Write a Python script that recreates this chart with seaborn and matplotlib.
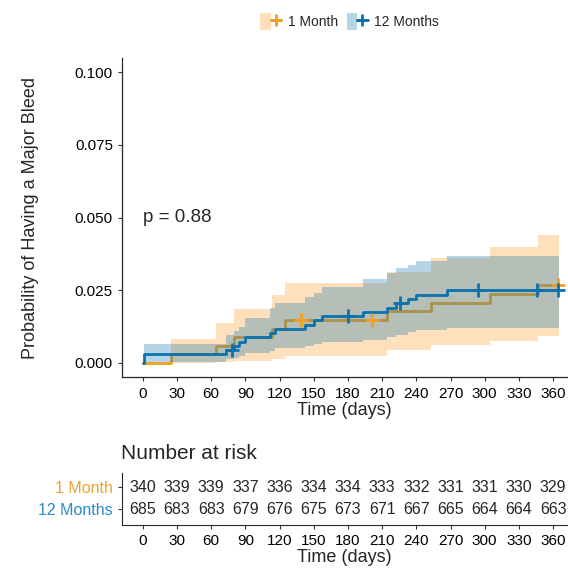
import numpy as np
import pandas as pd
import matplotlib
matplotlib.use("Agg")
import matplotlib.pyplot as plt
import seaborn as sns
from matplotlib.patches import Patch
from matplotlib.lines import Line2D
from matplotlib.legend_handler import HandlerTuple

# --- data ---
groups = ["1 Month", "12 Months"]

m1_time = [0, 25, 64, 80, 113, 125, 214, 253, 305, 347, 365]
m1_prob = [0, 0.0029, 0.0059, 0.0088, 0.0118, 0.0147, 0.0177, 0.0207, 0.0237, 0.0268, 0.0268]
m1_low = [0, 0, 0.0002, 0.0008, 0.0015, 0.0025, 0.0045, 0.006, 0.0075, 0.0092, 0.0092]
m1_up = [0, 0.0083, 0.0138, 0.0186, 0.0234, 0.0274, 0.0314, 0.036, 0.040, 0.044, 0.044]
m1_cens_t = [139, 201, 364]
m1_cens_p = [0.0147, 0.0147, 0.0268]

m12_time = [0, 1, 73, 80, 84, 90, 112, 116, 142, 150, 157, 193, 214, 222, 233, 240, 267, 365]
m12_prob = [0, 0.0029, 0.0044, 0.0058, 0.0073, 0.0088, 0.0102, 0.0117, 0.0132, 0.0146, 0.0161,
            0.0176, 0.0190, 0.0205, 0.0220, 0.0235, 0.0250, 0.0250]
m12_low = [0, 0.0004, 0.0012, 0.0018, 0.0025, 0.0033, 0.0042, 0.005, 0.0058, 0.0065, 0.0072,
           0.008, 0.009, 0.0097, 0.0105, 0.0113, 0.012, 0.012]
m12_up = [0, 0.0066, 0.0095, 0.011, 0.0125, 0.0155, 0.0188, 0.0205, 0.0225, 0.024, 0.0262,
          0.029, 0.031, 0.0325, 0.0335, 0.035, 0.0368, 0.0368]
m12_cens_t = [78, 180, 226, 294, 346, 364]
m12_cens_p = [0.0044, 0.0161, 0.0205, 0.025, 0.025, 0.025]

risk_times = [0, 30, 60, 90, 120, 150, 180, 210, 240, 270, 300, 330, 360]
m1_risk = [340, 339, 339, 337, 336, 334, 334, 333, 332, 331, 331, 330, 329]
m12_risk = [685, 683, 683, 679, 676, 675, 673, 671, 667, 665, 664, 664, 663]

p_text = "p = 0.88"

colors = {"1 Month": "#F0A020", "12 Months": "#0B72AE"}
fills = {"1 Month": ("#FF9F30", 0.32), "12 Months": ("#0B72AE", 0.3)}
label_colors = {"1 Month": "#F2A233", "12 Months": "#2B8BCB"}

sns.set_style("ticks")
plt.rcParams["font.family"] = ["Liberation Sans", "DejaVu Sans"]

curves = pd.concat([
    pd.DataFrame({"time": m1_time, "prob": m1_prob, "low": m1_low, "up": m1_up, "group": "1 Month"}),
    pd.DataFrame({"time": m12_time, "prob": m12_prob, "low": m12_low, "up": m12_up, "group": "12 Months"}),
])
cens = pd.concat([
    pd.DataFrame({"time": m1_cens_t, "prob": m1_cens_p, "group": "1 Month"}),
    pd.DataFrame({"time": m12_cens_t, "prob": m12_cens_p, "group": "12 Months"}),
])

fig = plt.figure(figsize=(5.68, 5.69), dpi=100)
ax = fig.add_axes([0.2148, 0.3366, 0.783, 0.5623])
ax_tab = fig.add_axes([0.2148, 0.0773, 0.783, 0.0914])

# ribbon then step line per group; blue ribbon sits over the orange line
for i, g in enumerate(groups):
    d = curves[curves["group"] == g]
    ax.fill_between(d["time"], d["low"], d["up"], step="post", color=fills[g][0],
                    alpha=fills[g][1], linewidth=0, zorder=1 + 2 * i)
    sns.lineplot(data=d, x="time", y="prob", ax=ax, color=colors[g], linewidth=2,
                 drawstyle="steps-post", estimator=None, sort=False, zorder=2 + 2 * i)
for g in groups:
    d = cens[cens["group"] == g]
    sns.scatterplot(data=d, x="time", y="prob", ax=ax, color=colors[g], marker="+",
                    s=90, linewidth=2, zorder=6)

ax.text(0, 0.05, p_text, fontsize=13.5, ha="left", va="center")

ax.set_xlim(-18.25, 372)
ax.set_ylim(-0.005, 0.105)
ax.set_xticks(risk_times)
ax.set_yticks([0, 0.025, 0.05, 0.075, 0.1])
ax.set_yticklabels(["0.000", "0.025", "0.050", "0.075", "0.100"])
ax.tick_params(labelsize=11, length=3, width=0.8, colors="#333333", labelcolor="black")
ax.set_xlabel("Time (days)", fontsize=13, labelpad=1)
ax.set_ylabel("Probability of Having a Major Bleed", fontsize=13, labelpad=26)
sns.despine(ax=ax)
for s in ["left", "bottom"]:
    ax.spines[s].set_linewidth(0.9)

# legend
handles = []
for g in groups:
    patch = Patch(facecolor=fills[g][0], alpha=fills[g][1], edgecolor="none")
    line = Line2D([0], [0], color=colors[g], linewidth=2, marker="+", markersize=8, markeredgewidth=2)
    handles.append((patch, line))
fig.legend(handles, groups, handler_map={tuple: HandlerTuple(ndivide=None, pad=0)},
           loc="center", bbox_to_anchor=(0.616, 0.962), ncol=2, frameon=False,
           fontsize=10, handlelength=1.5, handleheight=1.5, columnspacing=0.6,
           handletextpad=0.5)

# risk table
risk = pd.concat([
    pd.DataFrame({"time": risk_times, "n": m1_risk, "row": 1, "group": "1 Month"}),
    pd.DataFrame({"time": risk_times, "n": m12_risk, "row": 0, "group": "12 Months"}),
])
for _, r in risk.iterrows():
    ax_tab.text(r["time"], r["row"], str(r["n"]), ha="center", va="center", fontsize=11.5)
ax_tab.set_xlim(-18.25, 372)
ax_tab.set_ylim(-0.72, 1.65)
ax_tab.set_xticks(risk_times)
ax_tab.set_yticks([1, 0])
ax_tab.tick_params(axis="x", labelsize=11, length=3, width=0.8, colors="#333333", labelcolor="black")
ax_tab.tick_params(axis="y", length=3, width=0.8, colors="#333333")
ax_tab.set_yticklabels(groups, fontsize=11.5)
for lab, g in zip(ax_tab.get_yticklabels(), groups):
    lab.set_color(label_colors[g])
ax_tab.set_xlabel("Time (days)", fontsize=13, labelpad=1)
ax_tab.set_title("Number at risk", fontsize=15, loc="left", x=-0.003, pad=10)
sns.despine(ax=ax_tab)

fig.savefig("out.png", dpi=100)
